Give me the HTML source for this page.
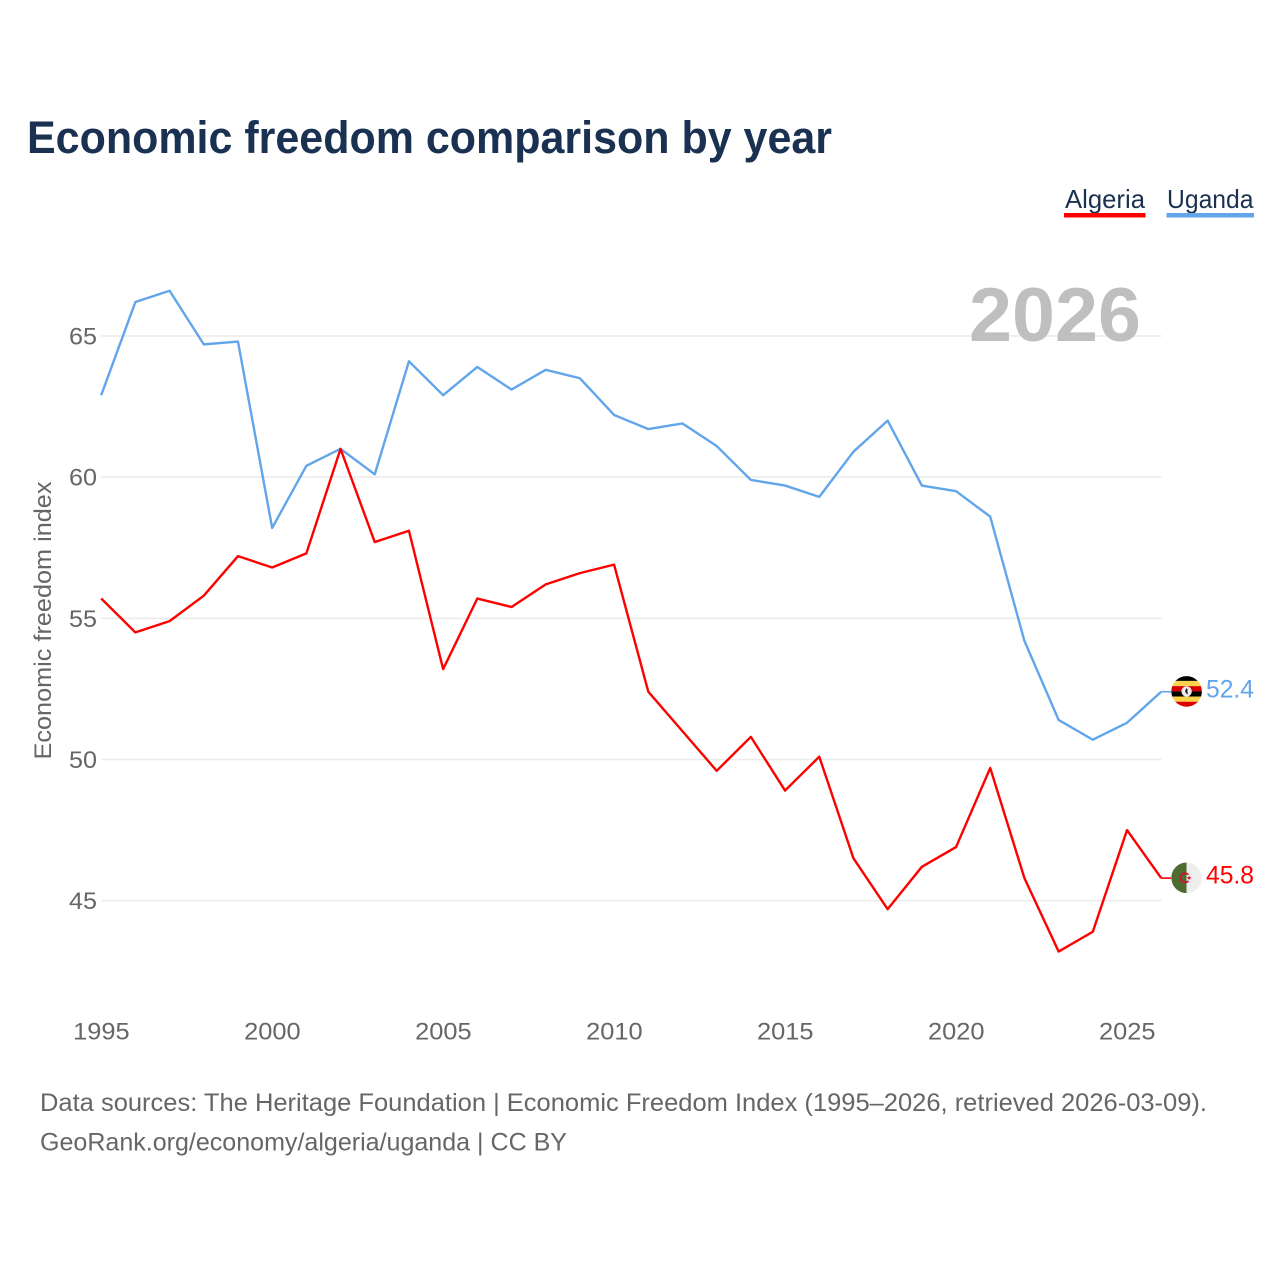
<!DOCTYPE html>
<html lang="en">
<head>
<meta charset="utf-8">
<title>Economic freedom comparison by year</title>
<style>
html,body{margin:0;padding:0;background:#fff;width:1280px;height:1280px;overflow:hidden}
svg{display:block}
text{font-family:"Liberation Sans",sans-serif}
</style>
</head>
<body>
<svg id="chart" width="1280" height="1280" viewBox="0 0 1280 1280" xmlns="http://www.w3.org/2000/svg">
  <defs>
    <clipPath id="flag-clip-ug"><circle cx="0" cy="0" r="15.3"/></clipPath>
    <clipPath id="flag-clip-dz"><circle cx="0" cy="0" r="15.3"/></clipPath>
  </defs>
  <text x="27" y="153" font-size="45" font-weight="700" fill="#1a3152" textLength="805" lengthAdjust="spacingAndGlyphs">Economic freedom comparison by year</text>

  <g>
    <g>
      <text x="1065" y="208" font-size="26" fill="#1a3152" textLength="80" lengthAdjust="spacingAndGlyphs">Algeria</text>
      <rect x="1064" y="213" width="81.5" height="4.5" fill="#ff0000"/>
    </g>
    <g>
      <text x="1167" y="208" font-size="26" fill="#1a3152" textLength="86.5" lengthAdjust="spacingAndGlyphs">Uganda</text>
      <rect x="1166.5" y="213" width="87.5" height="4.5" fill="#62a5ea"/>
    </g>
  </g>

  <g id="grid"></g>
  <text x="969" y="341" font-size="76" font-weight="700" fill="#bfbfbf" textLength="172" lengthAdjust="spacingAndGlyphs">2026</text>
  <g id="y-ticks"></g>
  <g id="x-ticks"></g>
  <text transform="translate(51,759.5) rotate(-90)" x="0" y="0" font-size="24" fill="#666666" textLength="278" lengthAdjust="spacingAndGlyphs">Economic freedom index</text>

  <g id="series"></g>

  <g id="flag-ug">
    <g clip-path="url(#flag-clip-ug)">
      <rect x="-16" y="-16" width="32" height="5.5" fill="#000000"/>
      <rect x="-16" y="-10.5" width="32" height="5.2" fill="#fcd34a"/>
      <rect x="-16" y="-5.3" width="32" height="5.2" fill="#d90000"/>
      <rect x="-16" y="-0.1" width="32" height="5.2" fill="#000000"/>
      <rect x="-16" y="5.1" width="32" height="5.2" fill="#fcd34a"/>
      <rect x="-16" y="10.3" width="32" height="5.7" fill="#d90000"/>
      <circle cx="0" cy="0" r="5.2" fill="#ececec"/>
      <path d="M-.5 -3 L1 -2.5 L.8 .5 L1.5 3 L-.5 2 L-1.5 0 Z" fill="#222222"/>
    </g>
  </g>
  <g id="flag-dz">
    <g clip-path="url(#flag-clip-dz)">
      <rect x="-16" y="-16" width="16" height="32" fill="#4e6b30"/>
      <rect x="0" y="-16" width="16" height="32" fill="#eeeeee"/>
      <circle cx="-1.5" cy="0" r="4.6" fill="none" stroke="#d2102c" stroke-width="1.7" stroke-dasharray="22 7" transform="rotate(42 -1.5 0)"/>
      <path d="M2.5 -2.4 L3.1 -.7 L4.9 -.7 L3.5 .4 L4 2.1 L2.5 1.1 L1 2.1 L1.5 .4 L.1 -.7 L1.9 -.7 Z" fill="#d2102c"/>
    </g>
  </g>

  <g id="end-labels"></g>

  <g>
    <text x="40" y="1111" font-size="25" fill="#666666" textLength="1167" lengthAdjust="spacingAndGlyphs">Data sources: The Heritage Foundation | Economic Freedom Index (1995–2026, retrieved 2026-03-09).</text>
    <text x="40" y="1150.5" font-size="25" fill="#666666" textLength="527" lengthAdjust="spacingAndGlyphs">GeoRank.org/economy/algeria/uganda | CC BY</text>
  </g>
</svg>
<script>
const years = [1995,1996,1997,1998,1999,2000,2001,2002,2003,2004,2005,2006,2007,2008,2009,2010,2011,2012,2013,2014,2015,2016,2017,2018,2019,2020,2021,2022,2023,2024,2025,2026];
const algeria = [55.7,54.5,54.9,55.8,57.2,56.8,57.3,61.0,57.7,58.1,53.2,55.7,55.4,56.2,56.6,56.9,52.4,51.0,49.6,50.8,48.9,50.1,46.5,44.7,46.2,46.9,49.7,45.8,43.2,43.9,47.5,45.8];
const uganda = [62.9,66.2,66.6,64.7,64.8,58.2,60.4,61.0,60.1,64.1,62.9,63.9,63.1,63.8,63.5,62.2,61.7,61.9,61.1,59.9,59.7,59.3,60.9,62.0,59.7,59.5,58.6,54.2,51.4,50.7,51.3,52.4];
const yTicks = [45,50,55,60,65];
const xTicks = [1995,2000,2005,2010,2015,2020,2025];

const NS = 'http://www.w3.org/2000/svg';
const xScale = function (year) { return 101.2 + (year - 1995) * (1161.2 - 101.2) / 31; };
const yScale = function (value) { return 900.7 - (value - 45) * 28.24; };
const ALGERIA_COLOR = '#ff0000';
const UGANDA_COLOR = '#62a5ea';

function make(tag, attrs, parent, text) {
  const el = document.createElementNS(NS, tag);
  Object.keys(attrs).forEach(function (k) { el.setAttribute(k, attrs[k]); });
  if (text !== undefined) el.textContent = text;
  parent.appendChild(el);
  return el;
}

const gridGroup = document.getElementById('grid');
const yTickGroup = document.getElementById('y-ticks');
yTicks.forEach(function (t) {
  const line = make('line', {x1: 101.5, x2: 1161.5, y1: yScale(t), y2: yScale(t), stroke: '#ececec', 'stroke-width': 1.6}, gridGroup);
  
  
  const label = make('text', {x: 69, y: yScale(t) + 8.5, 'font-size': 24, fill: '#666666', textLength: 28, lengthAdjust: 'spacingAndGlyphs'}, yTickGroup, String(t));
  
  
});

const xTickGroup = document.getElementById('x-ticks');
xTicks.forEach(function (t) {
  const label = make('text', {x: xScale(t) - 28, y: 1039.5, 'font-size': 24, fill: '#666666', textLength: 56.5, lengthAdjust: 'spacingAndGlyphs'}, xTickGroup, String(t));
  
  
});

function pathFor(values) {
  return values.map(function (v, i) {
    return (i ? 'L' : 'M') + xScale(years[i]).toFixed(2) + ' ' + yScale(v).toFixed(2);
  }).join(' ');
}

const seriesGroup = document.getElementById('series');
const ugandaLine = make('path', {d: pathFor(uganda), fill: 'none', stroke: UGANDA_COLOR, 'stroke-width': 2.4, 'stroke-linejoin': 'round'}, seriesGroup);


const algeriaLine = make('path', {d: pathFor(algeria), fill: 'none', stroke: ALGERIA_COLOR, 'stroke-width': 2.4, 'stroke-linejoin': 'round'}, seriesGroup);



const labelGroup = document.getElementById('end-labels');
const ugLast = uganda[uganda.length - 1];
const dzLast = algeria[algeria.length - 1];
const lastX = xScale(years[years.length - 1]);

const ugStub = make('line', {x1: lastX, x2: lastX + 10, y1: yScale(ugLast), y2: yScale(ugLast), stroke: UGANDA_COLOR, 'stroke-width': 1.6}, labelGroup);


const dzStub = make('line', {x1: lastX, x2: lastX + 10, y1: yScale(dzLast), y2: yScale(dzLast), stroke: ALGERIA_COLOR, 'stroke-width': 1.6}, labelGroup);



document.getElementById('flag-ug').setAttribute('transform', 'translate(1186.6,' + (yScale(ugLast) - 0.3) + ')');
document.getElementById('flag-dz').setAttribute('transform', 'translate(1186.6,' + (yScale(dzLast) - 0.3) + ')');

const ugValue = make('text', {x: 1206, y: yScale(ugLast) + 6, 'font-size': 25, fill: UGANDA_COLOR, textLength: 48, lengthAdjust: 'spacingAndGlyphs'}, labelGroup, ugLast.toFixed(1));


const dzValue = make('text', {x: 1206, y: yScale(dzLast) + 5.6, 'font-size': 25, fill: ALGERIA_COLOR, textLength: 48, lengthAdjust: 'spacingAndGlyphs'}, labelGroup, dzLast.toFixed(1));


</script>
</body>
</html>
